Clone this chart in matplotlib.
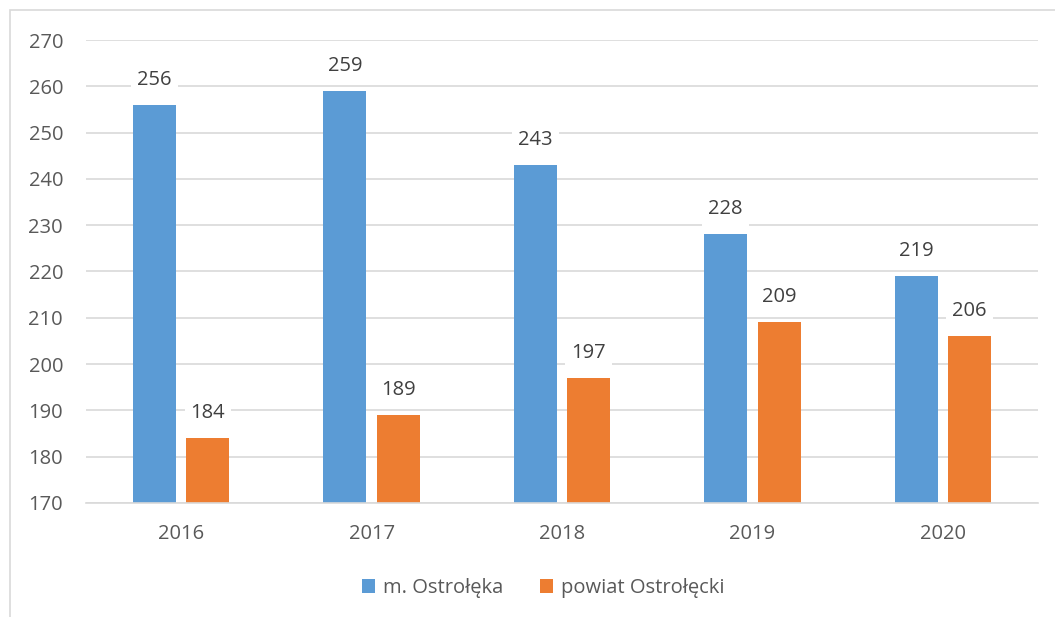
import matplotlib.pyplot as plt
import numpy as np
from matplotlib.patches import Rectangle

plt.rcParams['font.family'] = ['Open Sans', 'DejaVu Sans']

years = ['2016', '2017', '2018', '2019', '2020']
ostroleka = [256, 259, 243, 228, 219]
powiat = [184, 189, 197, 209, 206]

blue = '#5b9bd5'
orange = '#ed7d31'
text_col = '#595959'
grid_col = '#d9d9d9'
fs = 14.5

fig = plt.figure(figsize=(10.55, 6.17), dpi=100)
ax = fig.add_axes([86 / 1055, 1 - 503 / 617, (1038 - 86) / 1055, (503 - 40) / 617])

x = np.arange(len(years))
w = 0.226
b1 = ax.bar(x - 0.14, ostroleka, w, color=blue, label='m. Ostrołęka', zorder=2)
b2 = ax.bar(x + 0.14, powiat, w, color=orange, label='powiat Ostrołęcki', zorder=2)

for bars, vals in [(b1, ostroleka), (b2, powiat)]:
    for r, v in zip(bars, vals):
        ax.annotate(str(v), (r.get_x() + r.get_width() / 2, v), xytext=(0, 18),
                    textcoords='offset points', ha='center', va='center',
                    fontsize=fs, color='#404040', zorder=3,
                    bbox=dict(boxstyle='square,pad=0.3', fc='white', ec='none'))

ax.set_ylim(170, 270)
ax.set_xlim(-0.5, len(years) - 0.5)
ax.set_yticks(range(170, 271, 10))
ax.set_xticks(x)
ax.set_xticklabels(years)
ax.yaxis.grid(True, color=grid_col, linewidth=1.2, zorder=0)
ax.set_axisbelow(True)
for s in ['top', 'right', 'left']:
    ax.spines[s].set_visible(False)
ax.spines['bottom'].set_color(grid_col)
ax.spines['bottom'].set_linewidth(1.2)
ax.tick_params(axis='both', length=0, labelsize=fs, labelcolor=text_col)
ax.tick_params(axis='y', pad=16.5)
ax.tick_params(axis='x', pad=15)

fig.legend(loc='center', bbox_to_anchor=(0.515, 1 - 588 / 617), ncol=2, frameon=False,
           fontsize=fs, labelcolor=text_col, handlelength=0.65, handleheight=0.65,
           handletextpad=0.4, columnspacing=1.8)

fig.patches.append(Rectangle((10 / 1055, -0.1), 1.2, 1 - 10 / 617 + 0.1,
                             transform=fig.transFigure, fill=False,
                             edgecolor=grid_col, linewidth=1.2))

fig.savefig('out.png', dpi=100)
